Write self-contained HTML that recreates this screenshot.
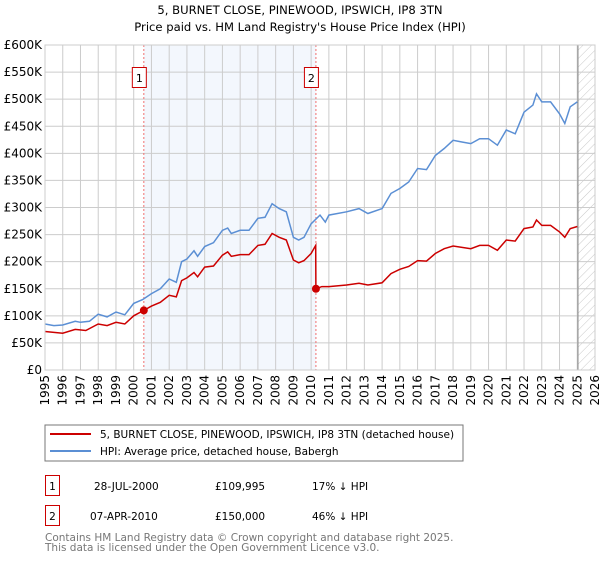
<!DOCTYPE html>
<html><head><meta charset="utf-8"><style>
body{margin:0;background:#fff;width:600px;height:560px;overflow:hidden;font-family:"DejaVu Sans","Liberation Sans",sans-serif;}
svg text{font-family:"DejaVu Sans","Liberation Sans",sans-serif;}
</style></head><body>
<svg id="c" width="600" height="560" xmlns="http://www.w3.org/2000/svg">
<defs><pattern id="hatch" width="6" height="6" patternUnits="userSpaceOnUse" patternTransform="rotate(45)"><line x1="0" y1="0" x2="0" y2="6" stroke="#bbb" stroke-width="0.8"/></pattern></defs>
<text x="300" y="14" text-anchor="middle" font-size="11.6">5, BURNET CLOSE, PINEWOOD, IPSWICH, IP8 3TN</text>
<text x="300" y="31" text-anchor="middle" font-size="11.6">Price paid vs. HM Land Registry's House Price Index (HPI)</text>
<g id="plot"></g>
<rect x="45" y="425" width="418" height="36" fill="#fff" stroke="#777"/>
<line x1="50" y1="434" x2="91" y2="434" stroke="#cc0000" stroke-width="2"/>
<text x="100" y="438" font-size="10.5">5, BURNET CLOSE, PINEWOOD, IPSWICH, IP8 3TN (detached house)</text>
<line x1="50" y1="451" x2="91" y2="451" stroke="#5b8fd4" stroke-width="2"/>
<text x="100" y="455" font-size="10.5">HPI: Average price, detached house, Babergh</text>
<rect x="45.5" y="475.5" width="14" height="20" fill="#fff" stroke="#cc0000"/>
<text x="52.5" y="490" font-size="10.5" text-anchor="middle">1</text>
<text x="94" y="490" font-size="10.5">28-JUL-2000</text>
<text x="215" y="490" font-size="10.5">£109,995</text>
<text x="312" y="490" font-size="10.5">17% ↓ HPI</text>
<rect x="45.5" y="505.5" width="14" height="20" fill="#fff" stroke="#cc0000"/>
<text x="52.5" y="520" font-size="10.5" text-anchor="middle">2</text>
<text x="90" y="520" font-size="10.5">07-APR-2010</text>
<text x="215" y="520" font-size="10.5">£150,000</text>
<text x="312" y="520" font-size="10.5">46% ↓ HPI</text>
<text x="45" y="541" font-size="10.5" fill="#777">Contains HM Land Registry data © Crown copyright and database right 2025.</text>
<text x="45" y="551" font-size="10.5" fill="#777">This data is licensed under the Open Government Licence v3.0.</text>
</svg>
<script>
const yTicks=[0,50,100,150,200,250,300,350,400,450,500,550,600];
const xYears=[1995,1996,1997,1998,1999,2000,2001,2002,2003,2004,2005,2006,2007,2008,2009,2010,2011,2012,2013,2014,2015,2016,2017,2018,2019,2020,2021,2022,2023,2024,2025,2026];
const hpiT=[1995,1995.5,1996,1996.7,1997,1997.5,1998,1998.5,1999,1999.5,2000,2000.5,2001,2001.5,2002,2002.4,2002.7,2003,2003.4,2003.6,2004,2004.5,2005,2005.3,2005.5,2006,2006.5,2007,2007.4,2007.8,2008.2,2008.6,2009,2009.3,2009.6,2010,2010.5,2010.8,2011,2012,2012.7,2013.2,2014,2014.5,2015,2015.5,2016,2016.5,2017,2017.5,2018,2018.5,2019,2019.5,2020,2020.5,2021,2021.5,2022,2022.5,2022.7,2023,2023.5,2024,2024.3,2024.6,2025];
const hpiV=[85,82,83,90,88,90,103,98,107,102,123,130,141,150,168,162,200,205,220,210,228,235,258,262,252,258,258,280,282,307,298,292,245,240,245,270,286,273,286,292,298,289,298,326,335,347,372,370,396,409,424,421,418,427,427,415,443,436,476,489,510,495,495,473,455,486,495];
const priceT=[1995,1996,1996.7,1997.3,1998,1998.5,1999,1999.5,2000,2000.57,2001,2001.5,2002,2002.4,2002.7,2003,2003.4,2003.6,2004,2004.5,2005,2005.3,2005.5,2006,2006.5,2007,2007.4,2007.8,2008.2,2008.6,2009,2009.3,2009.6,2010,2010.26,2010.27,2010.6,2011,2012,2012.7,2013.2,2014,2014.5,2015,2015.5,2016,2016.5,2017,2017.5,2018,2019,2019.5,2020,2020.5,2021,2021.5,2022,2022.5,2022.7,2023,2023.5,2024,2024.3,2024.6,2025];
const priceV=[71,68,75,73,85,82,88,85,100,110,118,125,138,135,165,170,180,172,190,192,212,218,210,213,213,230,232,252,245,240,203,198,202,215,230,150,154,154,157,160,157,161,178,186,191,202,201,215,224,229,224,230,230,221,240,238,261,264,277,267,267,255,245,261,265];
const saleT=[2000.57,2010.27];
const saleV=[109.995,150];
const L=45,R=595,T=45,B=370;
const sx=y=>L+(y-1995)/(2026-1995)*(R-L);
const sy=v=>B-v/600*(B-T);
const NS="http://www.w3.org/2000/svg",g=document.getElementById('plot');
function mk(tag,a){const e=document.createElementNS(NS,tag);for(const k in a)e.setAttribute(k,a[k]);g.appendChild(e);return e;}
let e=mk('rect',{x:sx(saleT[0]),y:T,width:sx(saleT[1])-sx(saleT[0]),height:B-T,fill:'#eef3fc',opacity:0.7});


e=mk('rect',{x:sx(2025.04),y:T,width:R-sx(2025.04),height:B-T,fill:'url(#hatch)'});


yTicks.forEach(t=>{const l=mk('line',{x1:L,x2:R,y1:sy(t),y2:sy(t),stroke:'#ccc'});


const tx=mk('text',{x:L-3,y:sy(t)+4,'text-anchor':'end','font-size':12});tx.textContent=t===0?'£0':'£'+t+'K';

});
xYears.forEach(y=>{const l=mk('line',{x1:sx(y),x2:sx(y),y1:T,y2:B,stroke:'#ccc'});


const tx=mk('text',{transform:`translate(${sx(y)+4},${B+5}) rotate(-90)`,'text-anchor':'end','font-size':12});tx.textContent=y;

});
e=mk('line',{x1:sx(2025.04),x2:sx(2025.04),y1:T,y2:B,stroke:'#888','stroke-width':1});


saleT.forEach((t,i)=>{const l=mk('line',{x1:sx(t),x2:sx(t),y1:T,y2:B,stroke:'#f07070','stroke-dasharray':'2,2'});


const r=mk('rect',{x:sx(t)-11.5,y:67.5,width:14,height:20,fill:'#fff',stroke:'#cc0000'});


const tx=mk('text',{x:sx(t)-4.5,y:82,'text-anchor':'middle','font-size':11});tx.textContent=i+1;

});
const pts=(T_,V)=>T_.map((t,i)=>sx(t).toFixed(1)+','+sy(V[i]).toFixed(1)).join(' ');
e=mk('polyline',{points:pts(hpiT,hpiV),fill:'none',stroke:'#5b8fd4','stroke-width':1.5});


e=mk('polyline',{points:pts(priceT,priceV),fill:'none',stroke:'#cc0000','stroke-width':1.5});


saleT.forEach((t,i)=>{const c=mk('circle',{cx:sx(t),cy:sy(saleV[i]),r:4,fill:'#cc0000'});

});
e=mk('rect',{x:L,y:T,width:R-L,height:B-T,fill:'none',stroke:'#ccc'});


</script>
</body></html>
